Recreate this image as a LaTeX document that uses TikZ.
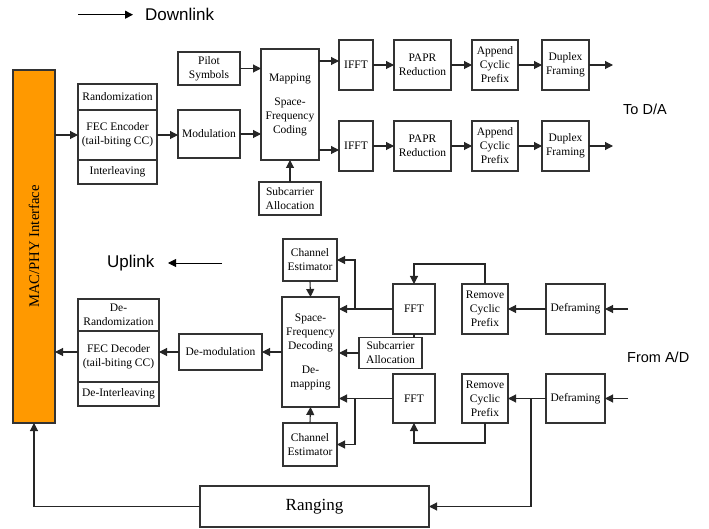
\documentclass[tikz,border=0pt]{standalone}
\usepackage{fontspec}
\setmainfont{Liberation Serif}
\newfontfamily\arialf{Liberation Sans}
\usetikzlibrary{arrows.meta}
\definecolor{macorange}{HTML}{FF9900}
\begin{document}
\begin{tikzpicture}[x=1pt,y=-1pt,
 box/.style={draw=black!80, line width=1.1pt, fill=white, inner sep=0pt, outer sep=0pt, align=center, font=\fontsize{11.5}{14}\selectfont},
 conn/.style={draw=black!85, line width=1.1pt, -{Triangle[length=8pt,width=8pt]}},
 ln/.style={draw=black!85, line width=1.1pt},
 biglbl/.style={font=\arialf\fontsize{17}{20}\selectfont, inner sep=0pt, anchor=west},
 smalllbl/.style={font=\arialf\fontsize{14.5}{17}\selectfont, inner sep=0pt, anchor=west},
 ]
\useasboundingbox (0,0) rectangle (709,529);

% ---------- MAC/PHY ----------
\node[box, fill=macorange, minimum width=42, minimum height=353] (mac) at (34,246.5) {};
\node[rotate=90, font=\fontsize{14.7}{17}\selectfont, inner sep=0pt] (mactxt) at (34,246.5) {MAC/PHY Interface};

% ---------- Legend ----------
\coordinate (dl1) at (78,14.7);
\coordinate (dl2) at (133,14.7);
\draw[conn, line width=0.9pt, draw=black] (dl1) -- (dl2);
\node[biglbl] (dlt) at (145,14.7) {Downlink};
\node[biglbl] (ult) at (107,263) {Uplink};
\coordinate (ul1) at (222,263);
\coordinate (ul2) at (168,263);
\draw[conn, line width=0.9pt, draw=black] (ul1) -- (ul2);
\node[smalllbl] (toda) at (623,109) {To D/A};
\node[smalllbl] (fromad) at (627,357) {From A/D};

% ---------- Downlink ----------
\node[box, minimum width=79, minimum height=26] (rand) at (117.5,97) {Randomization};
\node[box, minimum width=79, minimum height=50] (fec) at (117.5,135) {FEC Encoder\\(tail-biting CC)};
\node[box, minimum width=79, minimum height=24] (inter) at (117.5,172) {Interleaving};
\node[box, minimum width=62, minimum height=48] (mod) at (209,134) {Modulation};
\node[box, minimum width=62, minimum height=33] (pilot) at (209,68.5) {Pilot\\Symbols};
\node[box, minimum width=58, minimum height=111] (map) at (290,104.5) {Mapping\\[10pt]Space-\\Frequency\\Coding};
\node[box, minimum width=62, minimum height=33] (subc1) at (290,198.5) {Subcarrier\\Allocation};

\node[box, minimum width=34, minimum height=50] (ifft1) at (356,65) {IFFT};
\node[box, minimum width=57, minimum height=50] (papr1) at (422.5,65) {PAPR\\Reduction};
\node[box, minimum width=46, minimum height=50] (app1) at (495,65) {Append\\Cyclic\\Prefix};
\node[box, minimum width=47, minimum height=50] (dup1) at (565.5,65) {Duplex\\Framing};

\node[box, minimum width=34, minimum height=50] (ifft2) at (356,146) {IFFT};
\node[box, minimum width=57, minimum height=50] (papr2) at (422.5,146) {PAPR\\Reduction};
\node[box, minimum width=46, minimum height=50] (app2) at (495,146) {Append\\Cyclic\\Prefix};
\node[box, minimum width=47, minimum height=50] (dup2) at (565.5,146) {Duplex\\Framing};

\draw[conn] (mac.east |- fec.west) -- (fec.west);
\draw[conn] (fec.east) -- (mod.west |- fec.east);
\draw[conn] (pilot.east) -- (map.west |- pilot.east);
\draw[conn] (mod.east) -- (map.west |- mod.east);
\draw[conn] (subc1.north) -- (map.south);
\coordinate (a1) at ([yshift=4pt]ifft1.west);
\coordinate (a2) at ([yshift=-4pt]ifft2.west);
\draw[conn] (map.east |- a1) -- (a1);
\draw[conn] (map.east |- a2) -- (a2);
\draw[conn] (ifft1) -- (papr1);
\draw[conn] (papr1) -- (app1);
\draw[conn] (app1) -- (dup1);
\draw[conn] (ifft2) -- (papr2);
\draw[conn] (papr2) -- (app2);
\draw[conn] (app2) -- (dup2);
\coordinate (o1) at (613,65);
\coordinate (o2) at (613,146);
\draw[conn] (dup1.east) -- (o1);
\draw[conn] (dup2.east) -- (o2);

% ---------- Uplink ----------
\node[box, minimum width=54, minimum height=42] (ce1) at (310,260) {Channel\\Estimator};
\node[box, minimum width=57, minimum height=110] (sfd) at (310.5,352) {Space-\\Frequency\\Decoding\\[10pt]De-\\mapping};
\node[box, minimum width=54, minimum height=43] (ce2) at (310,444.5) {Channel\\Estimator};
\node[box, minimum width=83, minimum height=36] (demod) at (220.5,352) {De-modulation};
\node[box, minimum width=81, minimum height=32] (derand) at (118.5,315) {De-\\Randomization};
\node[box, minimum width=81, minimum height=51] (fecd) at (118.5,356.5) {FEC Decoder\\(tail-biting CC)};
\node[box, minimum width=81, minimum height=24] (deint) at (118.5,394) {De-Interleaving};
\node[box, minimum width=229, minimum height=41, font=\fontsize{17}{20}\selectfont] (rng) at (314.5,506.5) {Ranging};

\node[box, minimum width=42, minimum height=50] (fft1) at (414,309) {FFT};
\node[box, minimum width=46, minimum height=50] (rcp1) at (485,309) {Remove\\Cyclic\\Prefix};
\node[box, minimum width=59, minimum height=50] (defr1) at (575.5,309) {Deframing};
\node[box, minimum width=63, minimum height=31] (subc2) at (390.5,353) {Subcarrier\\Allocation};
\node[box, minimum width=42, minimum height=49] (fft2) at (414,398.5) {FFT};
\node[box, minimum width=46, minimum height=49] (rcp2) at (485,398.5) {Remove\\Cyclic\\Prefix};
\node[box, minimum width=59, minimum height=49] (defr2) at (575.5,398.5) {Deframing};

\draw[conn] (ce1.south) -- (sfd.north);
\draw[conn] (ce2.north) -- (sfd.south);
\draw[conn] (fft1.west) -- (sfd.east |- fft1.west);
\coordinate (b1) at (355,309);
\draw[conn] (b1) |- (ce1.east);
\draw[conn] (subc2.west) -- (sfd.east |- subc2.west);
\draw[ln] (fft1.south) -- (fft1.south |- subc2.north);
\draw[conn] (rcp1.north) -- ++(0,-20) -| (fft1.north);
\draw[conn] (defr1.west) -- (rcp1.east);
\coordinate (in1) at (628,309);
\draw[conn] (in1) -- (defr1.east);

\draw[conn] (fft2.west) -- (sfd.east |- fft2.west);
\coordinate (b2) at (355,398.5);
\draw[conn] (b2) |- (ce2.east);
\draw[conn] (rcp2.south) -- ++(0,20) -| (fft2.south);
\draw[conn] (defr2.west) -- (rcp2.east);
\coordinate (b3) at (531,398.5);
\draw[conn] (b3) |- (rng.east);
\coordinate (in2) at (628,398.5);
\draw[conn] (in2) -- (defr2.east);

\draw[conn] (sfd.west) -- (demod.east);
\draw[conn] (demod.west) -- (fecd.east |- demod.west);
\draw[conn] (fecd.west |- demod.west) -- (mac.east |- demod.west);
\draw[conn] (rng.west) -| (mac.south);
\end{tikzpicture}
\end{document}
